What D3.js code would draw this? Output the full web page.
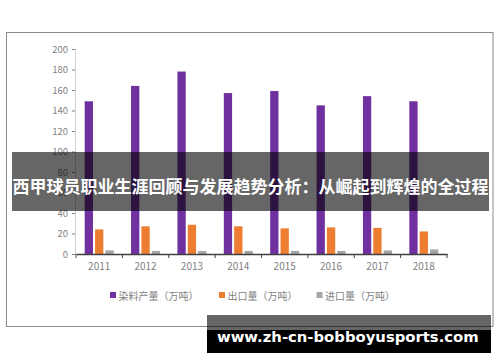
<!DOCTYPE html>
<html><head><meta charset="utf-8">
<script src="https://cdn.jsdelivr.net/npm/d3@7/dist/d3.min.js"></script>
<style>
html,body{margin:0;padding:0;background:#fff;}
svg{display:block;}
</style></head>
<body>
<svg id="c" width="500" height="362"></svg>
<script>
const years = ["2011","2012","2013","2014","2015","2016","2017","2018"];
const seriesNames = ["染料产量（万吨）","出口量（万吨）","进口量（万吨）"];
const production = [149,164,178,157,159,145,154,149];
const exportsV = [24,27,28.5,27,25,26,25.5,22];
const importsV = [3.5,3,3,3,3,3,3.5,4.5];
const yTicks = [0,20,40,60,80,100,120,140,160,180,200];
const colors = ["#7030a0","#ed7d31","#a5a5a5"];
const titleText = "西甲球员职业生涯回顾与发展趋势分析：从崛起到辉煌的全过程";
const urlText = "www.zh-cn-bobboyusports.com";

const svg = d3.select("#c");
const font = "'Noto Sans CJK SC','Noto Sans',sans-serif";

// chart frame
svg.append("rect").attr("x",6.5).attr("y",32.5).attr("width",486.5).attr("height",294)
  .attr("fill","#fff").attr("stroke","#8a8a8a").attr("stroke-width",1);

const x0 = d3.scaleBand().domain(years).range([76,447]).padding(0);
const x1 = d3.scaleBand().domain([0,1,2]).range([-14.5,14.5]).paddingInner(0.2);
const y = d3.scaleLinear().domain([0,200]).range([254,49]);

// y axis
const yAxis = d3.axisLeft(y).tickValues(yTicks).tickSize(3).tickPadding(4);
const gy = svg.append("g").attr("transform","translate(75,0)").call(yAxis);
gy.select(".domain").attr("stroke","#d0d0d0");
gy.selectAll(".tick line").attr("stroke","#808080");
gy.selectAll(".tick text").attr("fill","#7f7f7f").attr("font-size","9.5px").attr("font-family",font);

const data = [production, exportsV, importsV];
data.forEach((vals,si)=>{
  svg.append("g").selectAll("rect").data(vals).join("rect")
    .attr("x",(d,i)=>x0(years[i])+x0.bandwidth()/2+x1(si))
    .attr("width",x1.bandwidth())
    .attr("y",d=>y(d))
    .attr("height",d=>y(0)-y(d))
    .attr("fill",colors[si]);
});

// x axis
const xAxis = d3.axisBottom(x0).tickSize(0).tickPadding(9);
const gx = svg.append("g").attr("transform","translate(0,254)").call(xAxis);
gx.select(".domain").attr("stroke","#404040").attr("stroke-width",1.3);
gx.selectAll(".tick text").attr("fill","#7f7f7f").attr("font-size","10px").attr("font-family",font);
// boundary tick marks
const bounds = years.map(d=>x0(d)).concat([x0(years[years.length-1])+x0.bandwidth()]);
svg.append("g").selectAll("line").data(bounds).join("line")
  .attr("x1",d=>d).attr("x2",d=>d).attr("y1",254).attr("y2",258)
  .attr("stroke","#404040").attr("stroke-width",1);

// legend
const legX = [110,219,316.5];
const lg = svg.append("g");
seriesNames.forEach((n,i)=>{
  lg.append("rect").attr("x",legX[i]).attr("y",292).attr("width",6).attr("height",6).attr("fill",colors[i]);
  lg.append("text").attr("x",legX[i]+8.5).attr("y",295).attr("dominant-baseline","central")
    .attr("font-size","10px").attr("font-family",font).attr("fill","#7f7f7f").text(n);
});

// title banner
svg.append("rect").attr("x",12).attr("y",152).attr("width",477).attr("height",59)
  .attr("fill","rgba(0,0,0,0.6)");
const t = svg.append("text").attr("x",250.5).attr("y",185).attr("text-anchor","middle")
  .attr("dominant-baseline","central").attr("fill","#fff").attr("font-weight","bold")
  .attr("font-family",font).attr("font-size","17px").text(titleText);
let tw = t.node().getComputedTextLength();
t.attr("font-size",(17*476/tw)+"px");

// url box
svg.append("rect").attr("x",207).attr("y",315).attr("width",284).attr("height",15).attr("fill","rgba(0,0,0,0.6)");
svg.append("rect").attr("x",207).attr("y",330).attr("width",284).attr("height",23).attr("fill","#000");
const u = svg.append("text").attr("x",217).attr("y",341.5)
  .attr("fill","#fff").attr("font-weight","bold")
  .attr("font-family","'DejaVu Sans',sans-serif").attr("font-size","15px").text(urlText);
let uw = u.node().getComputedTextLength();
u.attr("font-size",(15*262/uw)+"px");
</script>
</body></html>
